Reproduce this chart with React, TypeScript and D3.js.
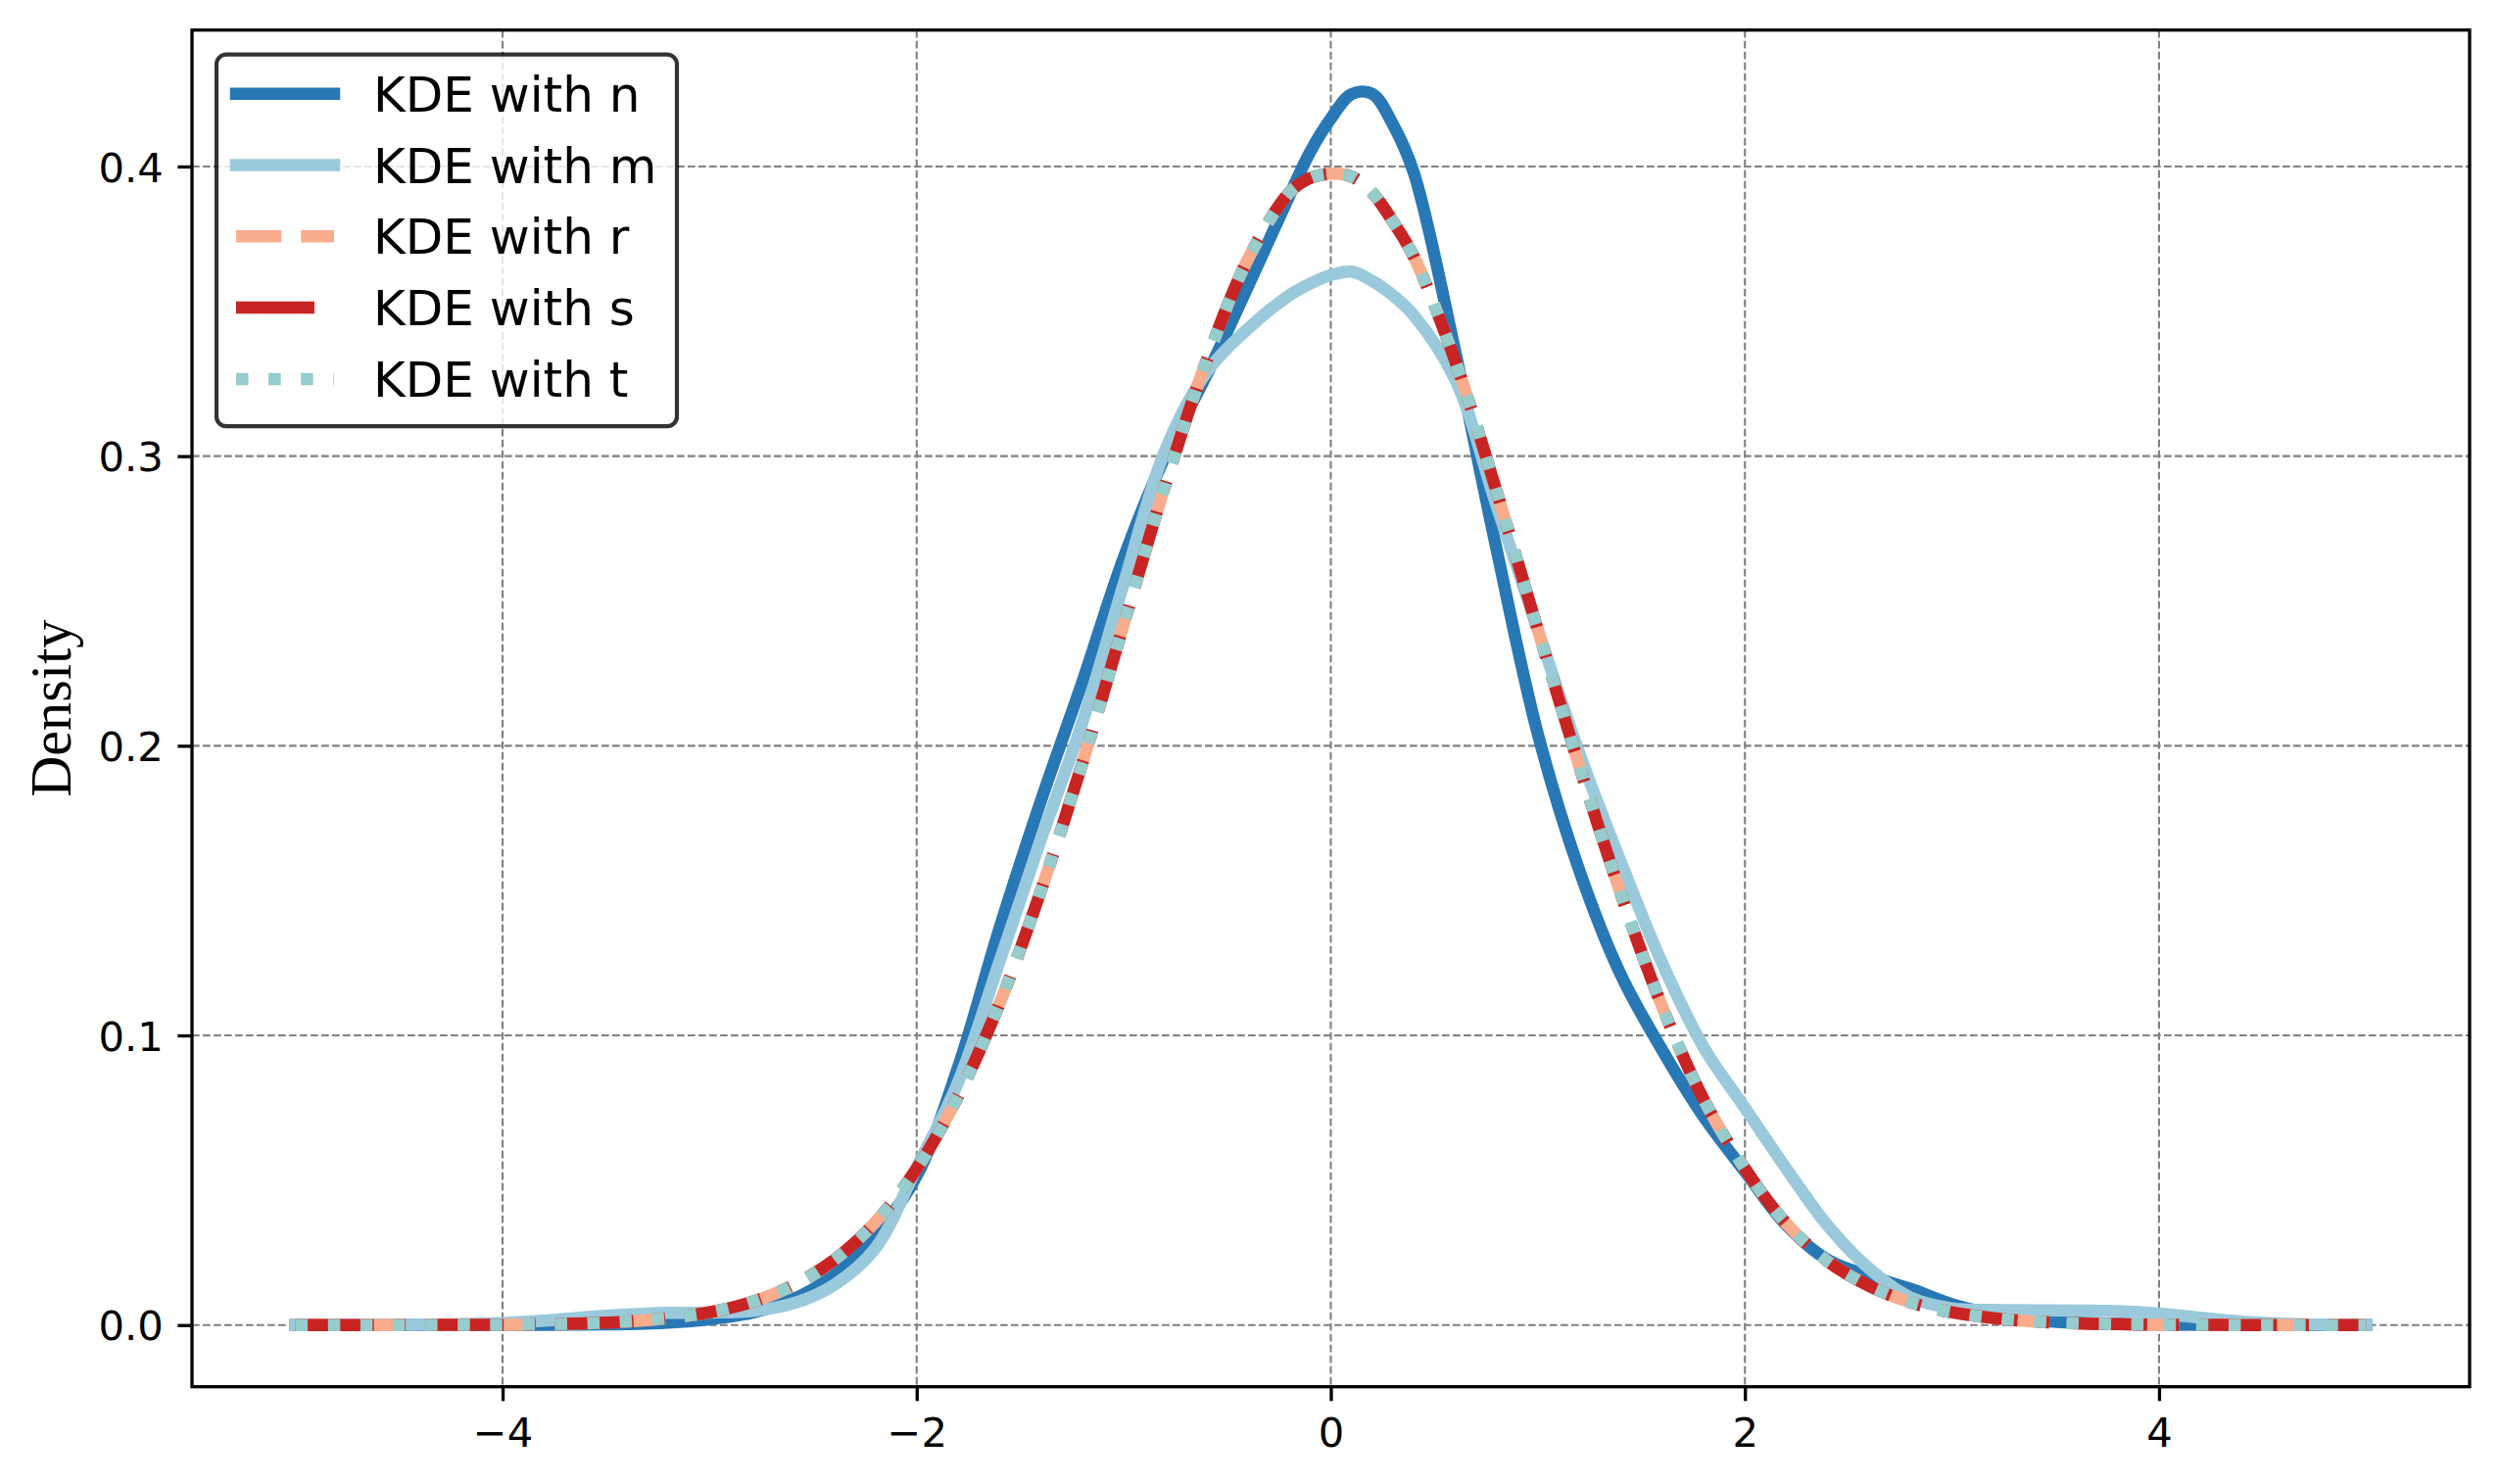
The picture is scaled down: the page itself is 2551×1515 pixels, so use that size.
import React, { useEffect, useRef } from 'react';
import * as d3 from 'd3';

const WIDTH = 2551;
const HEIGHT = 1515;

// sample positions shared by every curve (denser around the peaks)
const xs = [
  -5.0, -4.8, -4.6, -4.4, -4.2, -4.0, -3.8, -3.6, -3.4, -3.2,
  -3.0, -2.8, -2.6, -2.4, -2.2, -2.0, -1.8, -1.6, -1.4, -1.2,
  -1.0, -0.8, -0.6, -0.4, -0.2, -0.1, 0.0, 0.1, 0.2, 0.3, 0.4, 0.6, 0.8,
  1.0, 1.2, 1.4, 1.6, 1.8, 2.0, 2.2, 2.4, 2.6, 2.8,
  3.0, 3.2, 3.4, 3.6, 3.8, 4.0, 4.2, 4.4, 4.6, 4.8, 5.0,
];

const kdeN = [
  0, 0, 0, 0, 0, 0.0001, 0.0001, 0.0002, 0.0003, 0.0008,
  0.0020, 0.0042, 0.0088, 0.0172, 0.0310, 0.0515, 0.089, 0.137, 0.181, 0.222,
  0.265, 0.300, 0.328, 0.3586, 0.390, 0.405, 0.4165, 0.4250, 0.4251, 0.4145, 0.398, 0.3365, 0.268,
  0.204, 0.157, 0.121, 0.095, 0.072, 0.053, 0.0345, 0.0225, 0.0170, 0.0125,
  0.0072, 0.0038, 0.0017, 0.0008, 0.0004, 0.0002, 0.0001, 0, 0, 0, 0,
];

const kdeM = [
  0, 0, 0, 0.0001, 0.0003, 0.0007, 0.0015, 0.0027, 0.0036, 0.0042,
  0.0043, 0.0048, 0.0074, 0.0138, 0.0265, 0.0544, 0.0838, 0.1255, 0.1677, 0.208,
  0.256, 0.302, 0.329, 0.344, 0.3555, 0.3595, 0.3625, 0.3637, 0.3605, 0.3555, 0.3487, 0.3266, 0.283,
  0.240, 0.1975, 0.160, 0.125, 0.096, 0.075, 0.054, 0.0343, 0.0195, 0.0095,
  0.0058, 0.0052, 0.0051, 0.0050, 0.0048, 0.0040, 0.0025, 0.0012, 0.0005, 0.0001, 0,
];

const kdeR = [
  0, 0, 0, 0, 0.0001, 0.0001, 0.0003, 0.0006, 0.0012, 0.0024,
  0.0044, 0.0079, 0.0136, 0.0224, 0.0355, 0.054, 0.079, 0.111, 0.150, 0.194,
  0.242, 0.290, 0.333, 0.368, 0.391, 0.396, 0.3975, 0.3965, 0.391, 0.381, 0.369, 0.333, 0.288,
  0.240, 0.193, 0.149, 0.110, 0.078, 0.054, 0.035, 0.022, 0.0135, 0.0078,
  0.0044, 0.0024, 0.0012, 0.0006, 0.0003, 0.0001, 0.0001, 0, 0, 0, 0,
];
// s and t sit exactly on top of r in the picture
const kdeS = kdeR;
const kdeT = kdeR;

const labels = ['KDE with n', 'KDE with m', 'KDE with r', 'KDE with s', 'KDE with t'];
const xTicks = [-4, -2, 0, 2, 4];
const yTicks = [0.0, 0.1, 0.2, 0.3, 0.4];
const xLimits: [number, number] = [-5.5, 5.5];
const yLimits: [number, number] = [-0.0213, 0.4471];

interface Series {
  label: string;
  values: number[];
  color: string;
  dash: string | null;
}

const series: Series[] = [
  { label: labels[0], values: kdeN, color: '#2878b5', dash: null },
  { label: labels[1], values: kdeM, color: '#9ac9db', dash: null },
  { label: labels[2], values: kdeR, color: '#f8ac8c', dash: '46.25,20' },
  { label: labels[3], values: kdeS, color: '#c82423', dash: '80,20,12.5,20' },
  { label: labels[4], values: kdeT, color: '#96cccb', dash: '12.5,20.6' },
];

const LW = 12.5;
const FONT = 'DejaVu Sans';

const App: React.FC = () => {
  const svgRef = useRef<SVGSVGElement>(null);

  useEffect(() => {
    if (!svgRef.current) return;

    const svg = d3.select(svgRef.current);
    svg.selectAll('*').remove();

    svg.append('rect').attr('width', WIDTH).attr('height', HEIGHT).attr('fill', '#fff');

    const margin = { top: 30.7, right: 30, bottom: 99.3, left: 196 };
    const innerWidth = WIDTH - margin.left - margin.right;
    const innerHeight = HEIGHT - margin.top - margin.bottom;

    const g = svg.append('g')
      .attr('transform', `translate(${margin.left},${margin.top})`);

    const x = d3.scaleLinear().domain(xLimits).range([0, innerWidth]);
    const y = d3.scaleLinear().domain(yLimits).range([innerHeight, 0]);

    // Grid
    const grid = g.append('g');
    grid.selectAll('.vgrid')
      .data(xTicks)
      .enter().append('line')
      .attr('x1', d => x(d)).attr('x2', d => x(d))
      .attr('y1', 0).attr('y2', innerHeight)
      .attr('stroke', '#808080').attr('stroke-width', 2.1)
      .attr('stroke-dasharray', '7.7,3.3');
    grid.selectAll('.hgrid')
      .data(yTicks)
      .enter().append('line')
      .attr('x1', 0).attr('x2', innerWidth)
      .attr('y1', d => y(d)).attr('y2', d => y(d))
      .attr('stroke', '#808080').attr('stroke-width', 2.1)
      .attr('stroke-dasharray', '7.7,3.3');

    // Curves
    const line = d3.line<number>()
      .x((_, i) => x(xs[i]))
      .y(d => y(d))
      .curve(d3.curveCatmullRom.alpha(0.5));

    series.forEach(s => {
      g.append('path')
        .attr('d', line(s.values))
        .attr('fill', 'none')
        .attr('stroke', s.color)
        .attr('stroke-width', LW)
        .attr('stroke-linejoin', 'round')
        .attr('stroke-linecap', s.dash ? 'butt' : 'square')
        .attr('stroke-dasharray', s.dash);
    });

    // Frame
    g.append('rect')
      .attr('width', innerWidth)
      .attr('height', innerHeight)
      .attr('fill', 'none')
      .attr('stroke', '#000')
      .attr('stroke-width', 3.3);

    // Axes
    g.append('g')
      .attr('transform', `translate(0,${innerHeight})`)
      .call(d3.axisBottom(x).tickValues(xTicks).tickSize(14.6).tickPadding(14.6).tickFormat(d3.format('d')))
      .call(a => a.select('.domain').remove())
      .call(a => a.selectAll('.tick line').attr('stroke', '#000').attr('stroke-width', 3.3))
      .call(a => a.selectAll('.tick text')
        .attr('fill', '#000').attr('dy', null).attr('y', 61.3)
        .attr('font-family', FONT).attr('font-size', 41.7));

    g.append('g')
      .call(d3.axisLeft(y).tickValues(yTicks).tickSize(14.6).tickPadding(14.6).tickFormat(d3.format('.1f')))
      .call(a => a.select('.domain').remove())
      .call(a => a.selectAll('.tick line').attr('stroke', '#000').attr('stroke-width', 3.3))
      .call(a => a.selectAll('.tick text')
        .attr('fill', '#000').attr('dy', '0.365em')
        .attr('font-family', FONT).attr('font-size', 41.7));

    svg.append('text')
      .attr('transform', `translate(72,${margin.top + innerHeight / 2}) rotate(-90)`)
      .attr('text-anchor', 'middle')
      .attr('font-family', 'Liberation Serif, Times New Roman, serif')
      .attr('font-size', 58.3)
      .attr('fill', '#000')
      .text('Density');

    // Legend
    const legend = svg.append('g')
      .attr('transform', `translate(${margin.left + 25},${margin.top + 25})`);

    legend.append('rect')
      .attr('width', 470)
      .attr('height', 379.5)
      .attr('rx', 10)
      .attr('fill', 'rgba(255,255,255,0.8)')
      .attr('stroke', 'rgba(0,0,0,0.8)')
      .attr('stroke-width', 4.2);

    const rows = legend.selectAll<SVGGElement, Series>('.entry')
      .data(series)
      .enter().append('g')
      .attr('class', 'entry')
      .attr('transform', (_, i) => `translate(0,${40 + i * 72.8})`);

    rows.append('line')
      .attr('x1', 20).attr('x2', 120)
      .attr('y1', 0).attr('y2', 0)
      .attr('stroke', d => d.color)
      .attr('stroke-width', LW)
      .attr('stroke-linecap', d => d.dash ? 'butt' : 'square')
      .attr('stroke-dasharray', d => d.dash);

    rows.append('text')
      .attr('x', 160)
      .attr('y', 18)
      .attr('font-family', FONT)
      .attr('font-size', 50)
      .attr('fill', '#000')
      .text(d => d.label);
  }, []);

  return (
    <svg
      ref={svgRef}
      width={WIDTH}
      height={HEIGHT}
      style={{ position: 'absolute', left: 0, top: 0 }}
    />
  );
};

export default App;
